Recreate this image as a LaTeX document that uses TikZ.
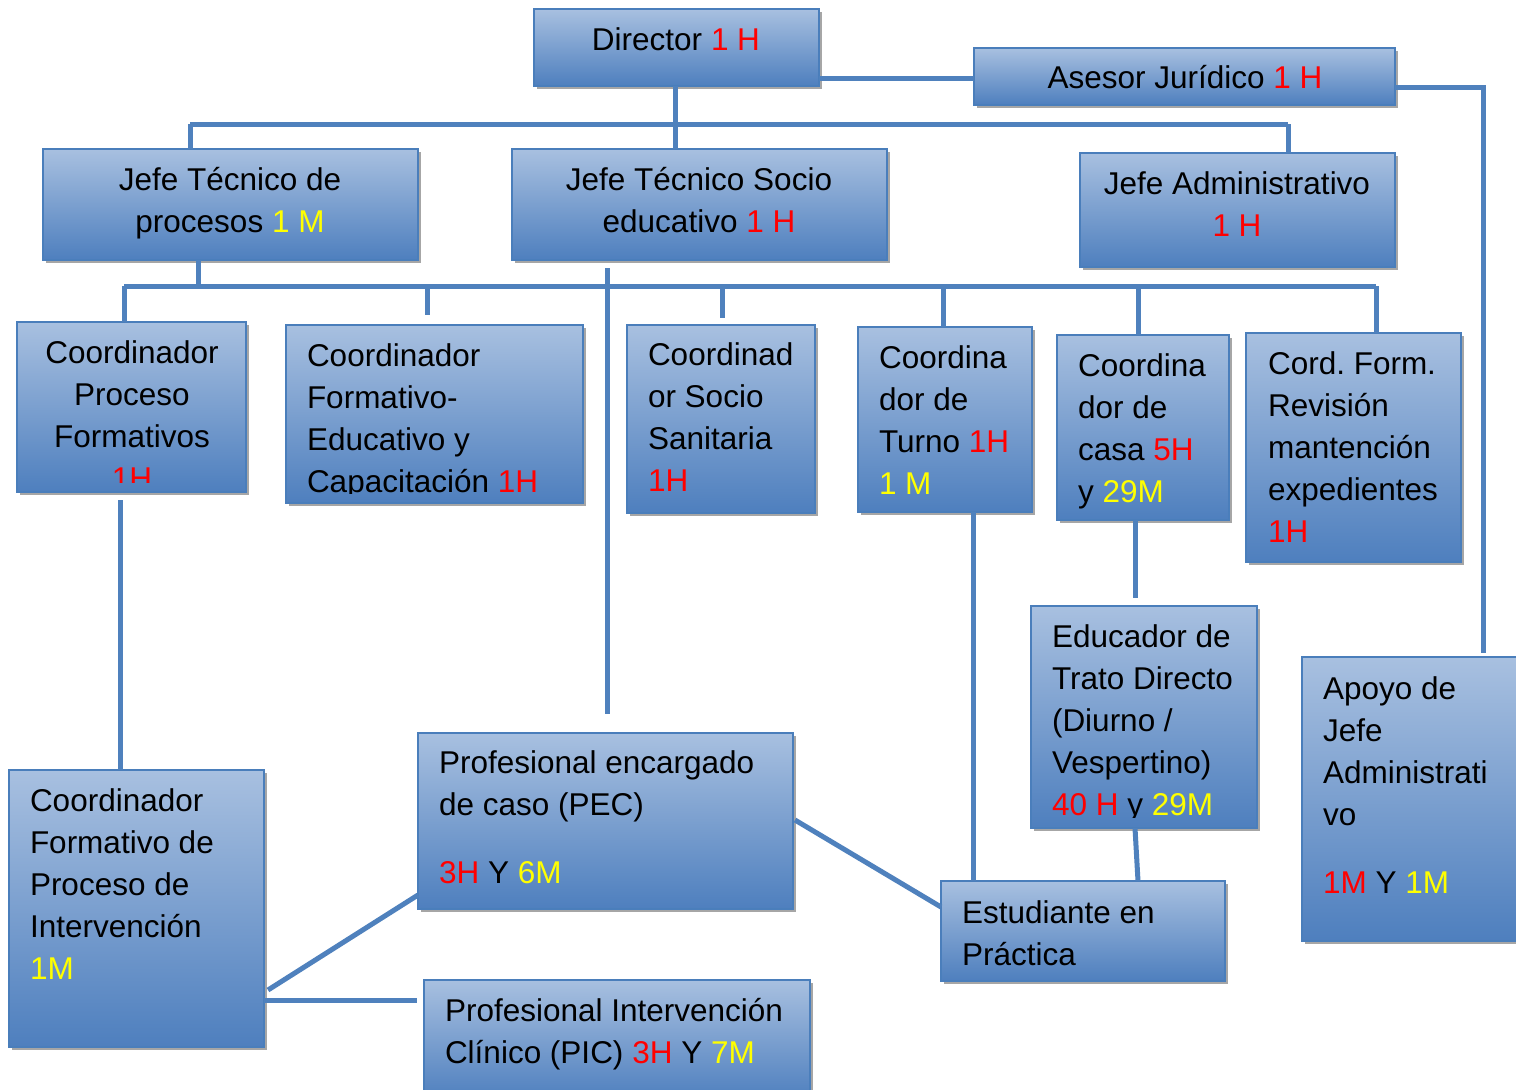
\documentclass[tikz,border=0pt]{standalone}
\usepackage{fontspec}
\setmainfont{Liberation Sans}
\usetikzlibrary{shadows}
\definecolor{boxtop}{HTML}{A8C0E0}
\definecolor{boxbot}{HTML}{4E7FBE}
\definecolor{boxline}{HTML}{4A7EBB}
\definecolor{connc}{HTML}{4F81BD}
\definecolor{myredc}{HTML}{FF0000}
\definecolor{myyelc}{HTML}{FFFF00}
\newcommand\myred[1]{\textcolor{myredc}{#1}}
\newcommand\myyel[1]{\textcolor{myyelc}{#1}}
\frenchspacing
\tikzset{
  orgbox/.style={draw=boxline, line width=1.6pt, top color=boxtop, bottom color=boxbot,
    inner sep=0pt, outer sep=0pt, anchor=north west,
    drop shadow={shadow xshift=3pt, shadow yshift=-3pt, opacity=0.35, fill=black}},
  txtl/.style={inner sep=0pt, outer sep=0pt, font=\fontsize{31.5}{42}\selectfont, align=left, anchor=north west, execute at begin node=\strut},
  txtc/.style={inner sep=0pt, outer sep=0pt, font=\fontsize{31.5}{42}\selectfont, align=center, anchor=north, execute at begin node=\strut},
  conn/.style={draw=connc, line width=5pt}
}
\begin{document}
\begin{tikzpicture}[x=1pt, y=-1pt]
\useasboundingbox (0,0) rectangle (1516,1090);
\fill[white] (0,0) rectangle (1516,1090);

% ---------- connector points ----------
\coordinate (busAL) at (190,124);
\coordinate (busAR) at (1288,124);
\coordinate (busAM) at (675,124);
\coordinate (ajc) at (1483,87);
\coordinate (busBL) at (124,286);
\coordinate (busBR) at (1376,286);
\coordinate (busBJ) at (198,286);
\coordinate (dB1) at (427,286);
\coordinate (dB2) at (722,286);
\coordinate (dB3) at (943,286);
\coordinate (dB4) at (1138,286);
\coordinate (socA) at (607,268);
\coordinate (socB) at (607,714);
\coordinate (cpfA) at (120,500);
\coordinate (ctuA) at (973,512);
\coordinate (ccaA) at (1135,520);
\coordinate (ccaB) at (1135,598);
\coordinate (eduA) at (1135,828);
\coordinate (estA) at (1138,881);
\coordinate (pecR) at (795,820);
\coordinate (estL) at (941,907);
\coordinate (pecL) at (418,895);
\coordinate (cinR) at (268,990);
\coordinate (cinR2) at (264,1000);
\coordinate (picL) at (417,1000);

% ---------- boxes ----------
\node[orgbox, minimum width=285pt, minimum height=77pt] (dir) at (534,9) {};
\node[orgbox, minimum width=421pt, minimum height=57pt] (ase) at (974,48) {};
\node[orgbox, minimum width=375pt, minimum height=111pt] (jtp) at (43,149) {};
\node[orgbox, minimum width=375pt, minimum height=111pt] (jts) at (512,149) {};
\node[orgbox, minimum width=315pt, minimum height=114pt] (jad) at (1080,153) {};
\node[orgbox, minimum width=229pt, minimum height=170pt] (cpf) at (17,322) {};
\node[orgbox, minimum width=297pt, minimum height=178pt] (cfe) at (286,325) {};
\node[orgbox, minimum width=188pt, minimum height=188pt] (csa) at (627,325) {};
\node[orgbox, minimum width=174pt, minimum height=185pt] (ctu) at (858,327) {};
\node[orgbox, minimum width=172pt, minimum height=185pt] (cca) at (1057,335) {};
\node[orgbox, minimum width=215pt, minimum height=229pt] (cfr) at (1246,333) {};
\node[orgbox, minimum width=226pt, minimum height=222pt] (edu) at (1031,606) {};
\node[orgbox, minimum width=225pt, minimum height=284pt] (apo) at (1302,657) {};
\node[orgbox, minimum width=255pt, minimum height=277pt] (cin) at (9,770) {};
\node[orgbox, minimum width=375pt, minimum height=176pt] (pec) at (418,733) {};
\node[orgbox, minimum width=284pt, minimum height=100pt] (est) at (941,881) {};
\node[orgbox, minimum width=386pt, minimum height=120pt] (pic) at (424,980) {};

% ---------- connectors ----------
\draw[conn] (dir.south -| busAM) -- (busAM);
\draw[conn] (busAL) -- (busAR);
\draw[conn] (busAL) -- (busAL |- jtp.north);
\draw[conn] (busAM) -- (busAM |- jts.north);
\draw[conn] (busAR) -- (busAR |- jad.north);
\draw[conn] (dir.east |- 0,78) -- (ase.west |- 0,78);
\draw[conn] (ase.east |- ajc) -- (ajc) -- ([yshift=4pt]apo.north -| ajc);
\draw[conn] (busBJ |- jtp.south) -- (busBJ);
\draw[conn] (busBL) -- (busBR);
\draw[conn] (busBL) -- (busBL |- cpf.north);
\draw[conn] (dB1) -- ([yshift=10pt]dB1 |- cfe.north);
\draw[conn] (dB2) -- ([yshift=7pt]dB2 |- csa.north);
\draw[conn] (dB3) -- (dB3 |- ctu.north);
\draw[conn] (dB4) -- (dB4 |- cca.north);
\draw[conn] (busBR) -- (busBR |- cfr.north);
\draw[conn] (socA) -- (socB);
\draw[conn] (cpfA) -- (cpfA |- cin.north);
\draw[conn] (ctuA) -- (ctuA |- est.north);
\draw[conn] (ccaA) -- (ccaB);
\draw[conn] (eduA) -- (estA);
\draw[conn] (pecR) -- (estL);
\draw[conn] (pecL) -- (cinR);
\draw[conn] (cinR2) -- (picL);

% ---------- texts ----------
\node[txtc] (tdir) at (676,20.6) {Director \myred{1 H}};
\node[txtc] (tase) at (1185,58.6) {Asesor Jurídico \myred{1 H}};
\node[txtc] (tjtp) at (230,167.6) {Jefe Técnico de\\procesos \myyel{1 M}};
\node[txtc] (tjts) at (699,167.6) {Jefe Técnico Socio\\educativo \myred{1 H}};
\node[txtc] (tjad) at (1237,171.6) {Jefe Administrativo\\\myred{1 H}};
\begin{scope}
\clip (17,322) rectangle (246,482);
\node[txtc] (tcpf) at (132,340.6) {Coordinador\\Proceso\\Formativos\\\myred{1H}};
\end{scope}
\begin{scope}
\clip (286,325) rectangle (583,493);
\node[txtl] (tcfe) at (307,343.6) {Coordinador\\Formativo-\\Educativo y\\Capacitación \myred{1H}};
\end{scope}
\node[txtl] (tcsa) at (648,342.6) {Coordinad\\or Socio\\Sanitaria\\\myred{1H}};
\node[txtl] (tctu) at (879,345.6) {Coordina\\dor de\\Turno \myred{1H}\\\myyel{1 M}};
\node[txtl] (tcca) at (1078,353.6) {Coordina\\dor de\\casa \myred{5H}\\y \myyel{29M}};
\node[txtl] (tcfr) at (1268,351.6) {Cord. Form.\\Revisión\\mantención\\expedientes\\\myred{1H}};
\begin{scope}
\clip (1031,606) rectangle (1257,817);
\node[txtl] (tedu) at (1052,624.6) {Educador de\\Trato Directo\\(Diurno /\\Vespertino)\\\myred{40 H} y \myyel{29M}};
\end{scope}
\node[txtl] (tapo) at (1323,676.6) {Apoyo de\\Jefe\\Administrati\\vo\\[26pt]\myred{1M} Y \myyel{1M}};
\node[txtl] (tcin) at (30,788.6) {Coordinador\\Formativo de\\Proceso de\\Intervención\\\myyel{1M}};
\node[txtl] (tpec) at (439,750.6) {Profesional encargado\\de caso (PEC)\\[26pt]\myred{3H} Y \myyel{6M}};
\node[txtl] (test) at (962,900.6) {Estudiante en\\Práctica};
\node[txtl] (tpic) at (445,998.6) {Profesional Intervención\\Clínico (PIC) \myred{3H} Y \myyel{7M}};
\end{tikzpicture}
\end{document}
